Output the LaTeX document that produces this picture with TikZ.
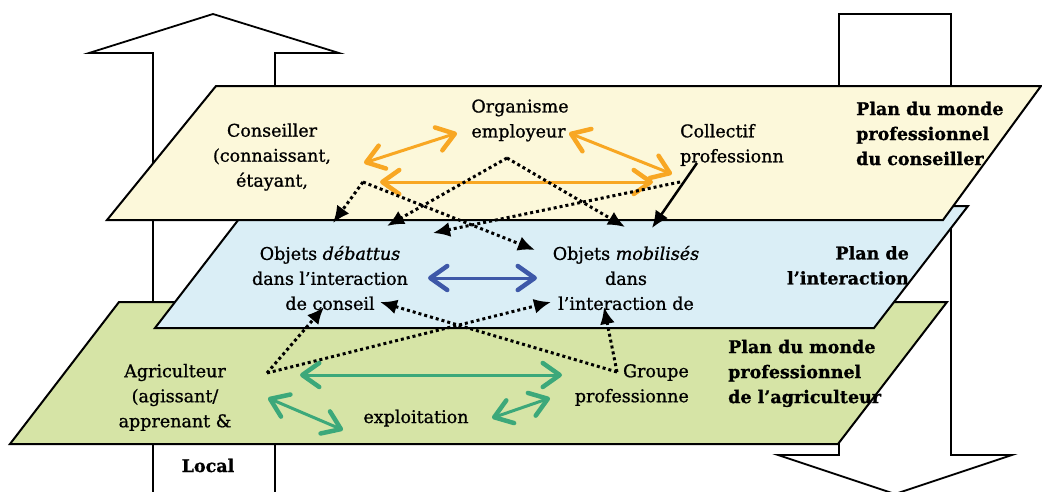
\documentclass[tikz,border=0pt]{standalone}
\usepackage{fontspec}
\setmainfont{DejaVu Serif}[FakeBold=1]
\usetikzlibrary{arrows.meta}
\definecolor{planY}{RGB}{252,248,218}
\definecolor{planB}{RGB}{218,238,246}
\definecolor{planG}{RGB}{214,228,166}
\definecolor{orangeC}{RGB}{248,167,35}
\definecolor{blueC}{RGB}{62,88,168}
\definecolor{greenC}{RGB}{60,168,122}
\tikzset{
  plane/.style={draw=black, line width=2pt, line join=miter},
  bigarrow/.style={draw=black, line width=1.8pt, fill=white, line join=miter},
  lbl/.style={font=\fontsize{17.5}{25}\selectfont, inner sep=0pt, align=center},
  blbl/.style={font=\fontsize{17.5}{25}\selectfont\bfseries, inner sep=0pt},
  barb/.style={{Straight Barb[length=17pt,width=24pt,line width=4.5pt,round]}-{Straight Barb[length=17pt,width=24pt,line width=4.5pt,round]}},
  orangearr/.style={draw=orangeC, line width=3pt, barb},
  bluearr/.style={draw=blueC, line width=3pt, barb},
  greenarr/.style={draw=greenC, line width=3pt, barb},
  dotarr/.style={line width=3pt, dash pattern=on 3pt off 3pt, -{Latex[length=17pt,width=15pt]}},
  solidarr/.style={line width=2.5pt, -{Latex[length=17pt,width=15pt]}}
}
\begin{document}
\begin{tikzpicture}[x=1pt,y=-1pt]
\useasboundingbox (0,0) rectangle (1042,491);
% big arrows (behind planes)
\path[bigarrow] (153,495) -- (153,53) -- (89,53) -- (213,14) -- (339,53) -- (275,53) -- (275,495);
\path[bigarrow] (839,14) -- (951,14) -- (951,455) -- (1012,455) -- (895,494) -- (778,455) -- (839,455) -- cycle;
% planes
\path[plane, fill=planG] (119,302) -- (947,302) -- (838,444) -- (10,444) -- cycle;
\path[plane, fill=planB] (249,206) -- (968,206) -- (874,328) -- (155,328) -- cycle;
\path[plane, fill=planY] (216,86) -- (1041,86) -- (943,220) -- (107,220) -- cycle;
% texts
\node[lbl] (cons) at (272,157) {Conseiller\\(connaissant,\\étayant,};
\node[lbl, align=left] (org) at (520,120.4) {Organisme\\employeur};
\node[lbl, align=left, anchor=west] (coll) at (680,145) {Collectif\\professionn};
\node[blbl, align=left, anchor=west] (pmc) at (856,133.5) {Plan du monde\\professionnel\\du conseiller};
\node[lbl] (deb) at (330,278) {Objets \textit{débattus}\\dans l’interaction\\de conseil};
\node[lbl] (mob) at (626,278) {Objets \textit{mobilisés}\\dans\\l’interaction de};
\node[blbl, align=right, anchor=east] (pint) at (909,265.4) {Plan de\\l’interaction};
\node[lbl] (agri) at (175,397.4) {Agriculteur\\(agissant/\\apprenant \&};
\node[lbl, anchor=base] (expl) at (416,423) {exploitation};
\node[lbl, align=right, anchor=east] (grp) at (689,385) {Groupe\\professionne};
\node[blbl, align=left, anchor=west] (pma) at (728,373.4) {Plan du monde\\professionnel\\de l’agriculteur};
\node[blbl, anchor=base] (loc) at (208,472) {Local};
% connector points
\coordinate (c1) at (363,182);
\coordinate (c2) at (507,158);
\coordinate (c3) at (680,182);
\coordinate (c4) at (267,373);
\coordinate (c5) at (617,372);
\coordinate (s0) at (697,163);
\coordinate (t1) at (333,223);
\coordinate (t2) at (535,250);
\coordinate (t3) at (387,226);
\coordinate (t4) at (625,227);
\coordinate (t5) at (433,233);
\coordinate (t6) at (652,228);
\coordinate (t7) at (324,307);
\coordinate (t8) at (551,302);
\coordinate (t9) at (380,302);
\coordinate (t10) at (604,307);
\coordinate (o1a) at (364,163); \coordinate (o1b) at (457,133);
\coordinate (o2a) at (569,133); \coordinate (o2b) at (672,174);
\coordinate (o3a) at (380,182); \coordinate (o3b) at (653,182);
\coordinate (b1a) at (428,278); \coordinate (b1b) at (537,278);
\coordinate (g1a) at (300,375); \coordinate (g1b) at (562,375);
\coordinate (g2a) at (268,398); \coordinate (g2b) at (343,430);
\coordinate (g3a) at (492,418); \coordinate (g3b) at (550,398);
% colored double arrows
\draw[orangearr] (o1a) -- (o1b);
\draw[orangearr] (o2a) -- (o2b);
\draw[orangearr] (o3a) -- (o3b);
\draw[bluearr] (b1a) -- (b1b);
\draw[greenarr] (g1a) -- (g1b);
\draw[greenarr] (g2a) -- (g2b);
\draw[greenarr] (g3a) -- (g3b);
% dotted arrows
\draw[dotarr] (c1) -- (t1);
\draw[dotarr] (c1) -- (t2);
\draw[dotarr] (c2) -- (t3);
\draw[dotarr] (c2) -- (t4);
\draw[dotarr] (c3) -- (t5);
\draw[solidarr] (s0) -- (t6);
\draw[dotarr] (c4) -- (t7);
\draw[dotarr] (c4) -- (t8);
\draw[dotarr] (c5) -- (t9);
\draw[dotarr] (c5) -- (t10);
\end{tikzpicture}
\end{document}
